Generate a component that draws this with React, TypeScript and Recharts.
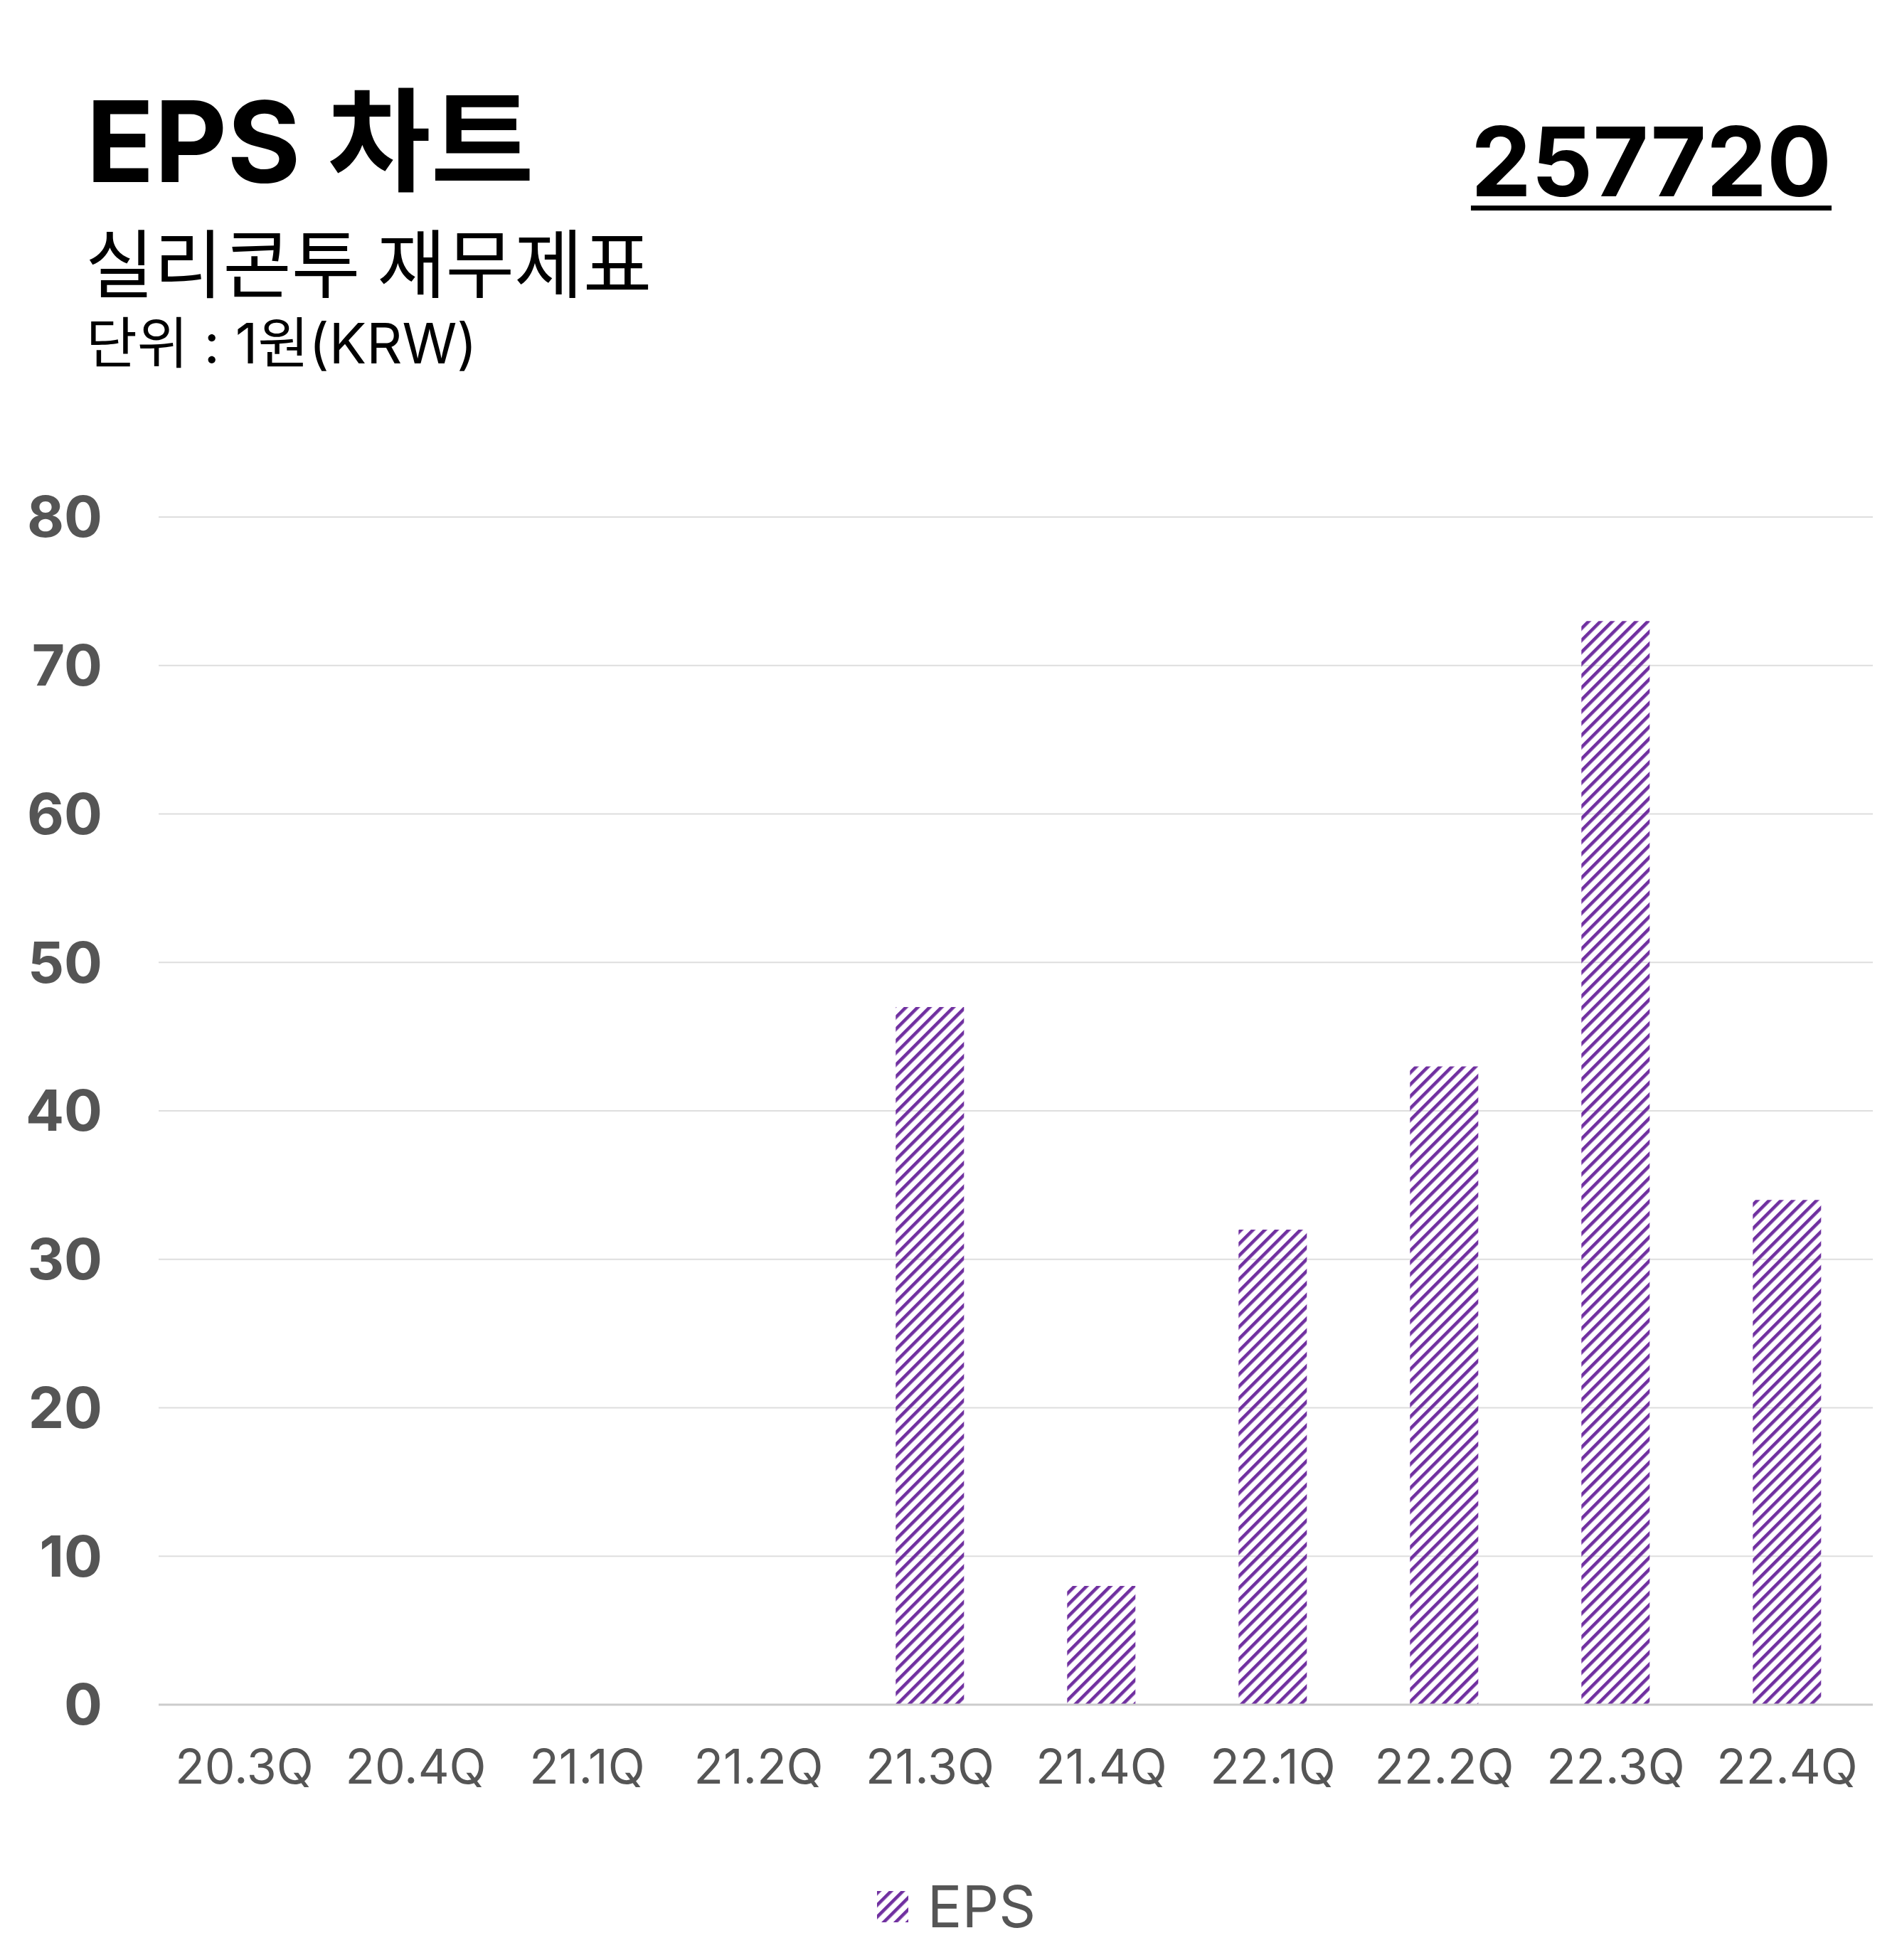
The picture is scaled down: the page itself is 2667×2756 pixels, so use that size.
import React from 'react'
import { BarChart, Bar, XAxis, YAxis, CartesianGrid, Legend } from 'recharts'

const quarters = ['20.3Q', '20.4Q', '21.1Q', '21.2Q', '21.3Q', '21.4Q', '22.1Q', '22.2Q', '22.3Q', '22.4Q']
const epsValues = [null, null, null, null, 47, 8, 32, 43, 73, 34]
const yTicks = [0, 10, 20, 30, 40, 50, 60, 70, 80]

const chartData = quarters.map((quarter, i) => ({ quarter, eps: epsValues[i] }))

const FONT = "Inter, 'Noto Sans CJK KR', sans-serif"
const PURPLE = '#7030A0'
const TICK_GRAY = '#555555'

function HatchPattern({ id }: { id: string }) {
  return (
    <pattern
      id={id}
      patternUnits="userSpaceOnUse"
      width={11.8}
      height={12}
      patternTransform="rotate(45)"
    >
      <rect x={0} y={0} width={4.6} height={12} fill={PURPLE} />
    </pattern>
  )
}

const renderLegend = (props: any) => {
  const { payload } = props
  return (
    <div
      style={{
        height: 100,
        display: 'flex',
        justifyContent: 'center',
        alignItems: 'flex-start',
        paddingLeft: 56,
        boxSizing: 'border-box',
      }}
    >
      {(payload || []).map((entry: any) => (
        <div key={entry.value} style={{ display: 'flex', alignItems: 'center', height: 50 }}>
          <svg width={44} height={44} style={{ display: 'block' }}>
            <defs>
              <HatchPattern id="epsHatchLegend" />
            </defs>
            <rect width={44} height={44} fill="url(#epsHatchLegend)" />
          </svg>
          <span
            style={{
              marginLeft: 27,
              fontSize: 81,
              lineHeight: 1,
              color: TICK_GRAY,
              fontFamily: FONT,
            }}
          >
            {entry.value}
          </span>
        </div>
      ))}
    </div>
  )
}

export default function App() {
  return (
    <div
      style={{
        position: 'absolute',
        top: 0,
        left: 0,
        width: 2667,
        height: 2756,
        background: '#ffffff',
        fontFamily: FONT,
        overflow: 'hidden',
      }}
    >
      <div
        style={{
          position: 'absolute',
          left: 121,
          top: 120,
          fontSize: 158,
          fontWeight: 700,
          lineHeight: 1,
          color: '#000',
          whiteSpace: 'nowrap',
        }}
      >
        EPS 차트
      </div>
      <div
        style={{
          position: 'absolute',
          left: 120,
          top: 312,
          fontSize: 105,
          lineHeight: 1,
          color: '#000',
          whiteSpace: 'nowrap',
          fontFamily: "'Noto Sans CJK KR', sans-serif",
        }}
      >
        실리콘투 재무제표
      </div>
      <div
        style={{
          position: 'absolute',
          left: 121,
          top: 444,
          fontSize: 78,
          lineHeight: 1,
          color: '#000',
          whiteSpace: 'nowrap',
        }}
      >
        단위 : 1원(KRW)
      </div>
      <div
        style={{
          position: 'absolute',
          right: 92,
          top: 160,
          fontSize: 135,
          fontWeight: 700,
          lineHeight: 1,
          color: '#000',
          whiteSpace: 'nowrap',
          textDecoration: 'underline',
          textDecorationThickness: '7px',
          textUnderlineOffset: '13px',
        }}
      >
        257720
      </div>

      <div style={{ position: 'absolute', left: 0, top: 0 }}>
        <BarChart
          width={2667}
          height={2756}
          data={chartData}
          margin={{ top: 727, right: 34, bottom: 0, left: 0 }}
          barCategoryGap="30%"
        >
          <defs>
            <HatchPattern id="epsHatch" />
          </defs>
          <CartesianGrid vertical={false} stroke="#dedede" strokeWidth={2} />
          <XAxis
            dataKey="quarter"
            height={259}
            interval={0}
            tickLine={false}
            tickSize={0}
            tickMargin={63}
            axisLine={{ stroke: '#cccccc', strokeWidth: 3 }}
            tick={{ fill: TICK_GRAY, fontSize: 68, fontFamily: FONT }}
          />
          <YAxis
            width={223}
            domain={[0, 80]}
            ticks={yTicks}
            axisLine={false}
            tickLine={false}
            tickSize={0}
            tickMargin={79}
            tick={{ fill: TICK_GRAY, fontSize: 80, fontWeight: 700, fontFamily: FONT }}
          />
          <Legend verticalAlign="bottom" height={100} content={renderLegend} />
          <Bar dataKey="eps" name="EPS" fill="url(#epsHatch)" isAnimationActive={false} />
        </BarChart>
      </div>
    </div>
  )
}
